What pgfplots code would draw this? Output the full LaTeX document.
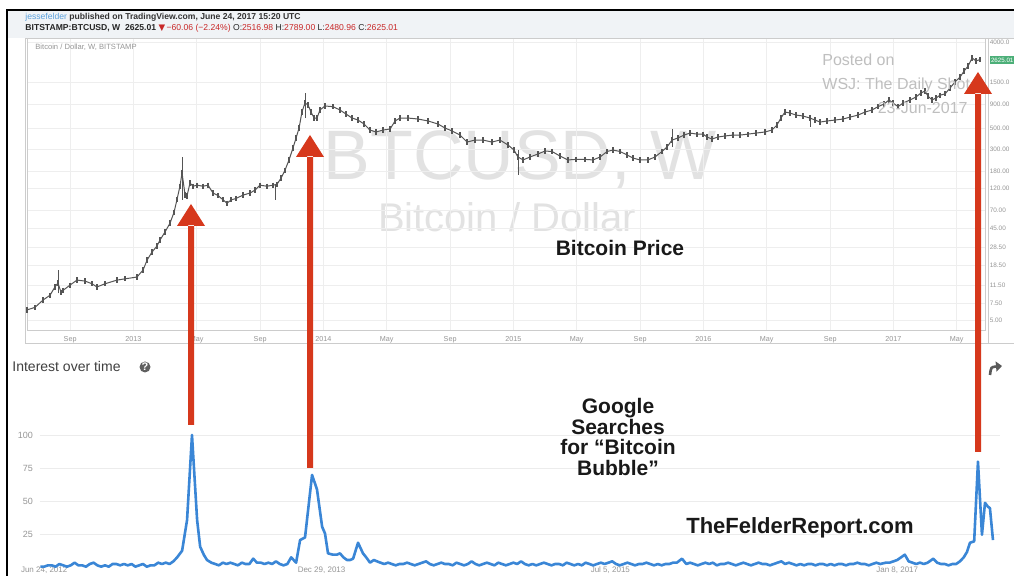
\documentclass[border=0pt]{standalone}
\usepackage{pgfplots}
\pgfplotsset{compat=1.18}
\usepackage{fontspec}
\setmainfont{Liberation Sans}
\newfontfamily\dejavu{DejaVu Sans}
\usetikzlibrary{arrows.meta}
\definecolor{arrowred}{RGB}{214,56,28}
\definecolor{gblue}{RGB}{58,134,214}
\definecolor{tvgreen}{RGB}{76,175,120}
\definecolor{hdrbg}{RGB}{240,243,246}
\definecolor{wm}{RGB}{226,226,226}
\definecolor{lbl}{RGB}{150,150,150}
\definecolor{tvred}{RGB}{200,40,40}
\definecolor{tvblue}{RGB}{90,160,220}
\definecolor{candle}{RGB}{85,85,85}

\pgfplotstableread{
yr price
2012.440 6.4
2012.482 6.8
2012.524 8.1
2012.561 9.1
2012.587 11.1
2012.603 12.2
2012.619 9.8
2012.629 10.2
2012.666 11.6
2012.703 13.1
2012.745 12.8
2012.782 12.0
2012.808 11.1
2012.851 12.0
2012.914 13.1
2012.956 13.5
2013.019 14.1
2013.051 16.7
2013.072 21.2
2013.098 25.7
2013.124 29.7
2013.140 34.3
2013.166 41.5
2013.193 51.6
2013.214 67
2013.229 90
2013.245 125
2013.256 172
2013.272 101
2013.282 99
2013.298 135
2013.314 125
2013.335 128
2013.366 125
2013.393 128
2013.419 106
2013.445 100
2013.472 90
2013.493 83
2013.514 90
2013.540 93
2013.577 101
2013.614 106
2013.640 114
2013.666 128
2013.703 125
2013.735 128
2013.756 131
2013.777 152
2013.798 184
2013.819 235
2013.840 313
2013.856 398
2013.872 506
2013.887 743
2013.903 923
2013.919 880
2013.935 743
2013.951 643
2013.966 643
2013.982 780
2014.008 859
2014.051 845
2014.087 780
2014.119 708
2014.151 643
2014.182 613
2014.214 557
2014.245 482
2014.277 460
2014.314 482
2014.351 494
2014.377 599
2014.403 643
2014.445 643
2014.498 628
2014.551 599
2014.603 557
2014.640 506
2014.677 471
2014.719 427
2014.756 361
2014.798 379
2014.840 379
2014.887 361
2014.929 379
2014.972 336
2015.003 298
2015.024 252
2015.051 235
2015.087 252
2015.129 271
2015.166 291
2015.203 288
2015.245 258
2015.287 235
2015.329 238
2015.377 238
2015.419 235
2015.456 252
2015.493 288
2015.524 298
2015.561 288
2015.598 265
2015.629 246
2015.666 235
2015.708 235
2015.745 252
2015.782 288
2015.808 320
2015.835 379
2015.866 398
2015.898 427
2015.929 448
2015.966 437
2015.998 437
2016.019 408
2016.045 388
2016.077 408
2016.114 418
2016.156 427
2016.193 427
2016.235 437
2016.277 448
2016.324 460
2016.361 482
2016.387 544
2016.408 643
2016.429 743
2016.456 725
2016.487 691
2016.524 675
2016.561 643
2016.587 613
2016.614 584
2016.651 599
2016.693 613
2016.735 628
2016.772 658
2016.814 691
2016.851 743
2016.887 780
2016.919 845
2016.951 901
2016.977 992
2016.998 923
2017.024 845
2017.051 923
2017.087 992
2017.119 1066
2017.145 1175
2017.166 1232
2017.182 1090
2017.203 992
2017.224 1040
2017.245 1112
2017.272 1150
2017.298 1324
2017.324 1528
2017.351 1725
2017.372 1991
2017.393 2245
2017.414 2722
2017.435 2533
2017.456 2625
}\pricetable

\pgfplotstableread{
yr val
2012.51 1
2012.53 1
2012.55 2
2012.57 2
2012.59 1
2012.61 3
2012.63 2
2012.65 1
2012.67 2
2012.69 4
2012.71 2
2012.73 2
2012.75 1
2012.77 3
2012.79 4
2012.81 2
2012.83 1
2012.85 2
2012.87 1
2012.89 3
2012.91 3
2012.93 2
2012.95 3
2012.97 2
2012.99 3
2013.01 1
2013.03 2
2013.05 3
2013.07 1
2013.09 2
2013.11 2
2013.13 4
2013.15 3
2013.17 4
2013.19 3
2013.21 5
2013.23 8
2013.256 13
2013.282 36
2013.308 100
2013.335 36
2013.351 16
2013.37 10
2013.387 6
2013.41 4
2013.43 3
2013.45 2
2013.47 4
2013.49 3
2013.51 4
2013.53 3
2013.55 2
2013.57 4
2013.59 3
2013.61 3
2013.63 7
2013.65 4
2013.67 4
2013.69 3
2013.71 4
2013.73 3
2013.75 5
2013.77 3
2013.79 2
2013.81 3
2013.83 8
2013.856 4
2013.877 21
2013.903 23
2013.94 70
2013.966 59
2013.993 31
2014.008 26
2014.024 11
2014.05 10
2014.07 10
2014.087 11
2014.105 8
2014.124 6
2014.14 6
2014.156 7
2014.182 19
2014.208 11
2014.225 8
2014.245 4
2014.265 6
2014.282 5
2014.30 4
2014.32 3
2014.34 4
2014.36 3
2014.38 2
2014.40 3
2014.42 3
2014.44 4
2014.46 3
2014.48 2
2014.50 3
2014.52 4
2014.54 5
2014.56 3
2014.58 2
2014.60 3
2014.62 4
2014.64 3
2014.66 3
2014.68 2
2014.70 4
2014.72 3
2014.74 2
2014.76 3
2014.78 5
2014.80 3
2014.82 2
2014.84 3
2014.86 4
2014.88 3
2014.90 2
2014.92 4
2014.94 3
2014.96 2
2014.98 3
2015.00 4
2015.02 3
2015.04 5
2015.06 3
2015.08 2
2015.10 3
2015.12 2
2015.14 3
2015.16 4
2015.18 3
2015.20 2
2015.22 3
2015.24 3
2015.26 2
2015.28 4
2015.30 3
2015.32 2
2015.34 3
2015.36 2
2015.38 4
2015.40 3
2015.42 2
2015.44 3
2015.46 4
2015.48 3
2015.50 4
2015.52 5
2015.54 3
2015.56 2
2015.58 3
2015.60 4
2015.62 3
2015.64 2
2015.66 3
2015.68 3
2015.70 4
2015.72 3
2015.74 2
2015.76 3
2015.78 2
2015.80 3
2015.82 3
2015.84 4
2015.86 4
2015.887 7
2015.91 3
2015.93 4
2015.95 3
2015.97 2
2015.99 3
2016.01 4
2016.03 3
2016.05 4
2016.07 2
2016.09 3
2016.11 3
2016.13 4
2016.15 3
2016.17 2
2016.19 3
2016.21 4
2016.23 3
2016.25 2
2016.27 3
2016.29 4
2016.31 3
2016.33 3
2016.35 2
2016.37 3
2016.39 4
2016.41 5
2016.43 3
2016.45 4
2016.47 3
2016.49 2
2016.51 3
2016.53 2
2016.55 3
2016.57 3
2016.59 2
2016.61 3
2016.63 3
2016.65 2
2016.67 3
2016.69 2
2016.71 3
2016.73 3
2016.75 2
2016.77 3
2016.79 3
2016.81 4
2016.83 3
2016.85 3
2016.87 2
2016.89 3
2016.91 4
2016.93 3
2016.96 4
2016.98 4
2017.00 5
2017.02 6
2017.04 8
2017.06 10
2017.08 5
2017.10 4
2017.12 3
2017.14 4
2017.16 3
2017.18 4
2017.21 7
2017.23 4
2017.25 3
2017.27 3
2017.29 2
2017.31 3
2017.33 3
2017.35 5
2017.37 8
2017.387 12
2017.403 19
2017.425 20
2017.445 80
2017.466 25
2017.482 49
2017.498 46
2017.508 45
2017.524 21
}\trendtable

\begin{document}
\begin{tikzpicture}
\path[use as bounding box] (0pt,0pt) rectangle (507pt,-288pt);
\begin{scope}[x=0.5pt,y=-0.5pt]
\fill[white] (0,0) rectangle (1014,576);
\fill[hdrbg] (8,10) rectangle (1014,38);
\draw[black, line width=0.8pt] (7,576) -- (7,10) -- (1014,10);
\draw[gray!40, line width=0.4pt] (25,38) rectangle (1016,343);
\draw[gray!40, line width=0.4pt] (988,38) -- (988,343);
% header texts
\node[anchor=west, inner sep=0pt, text=black!80] at (25,17)
  {\fontsize{4.3}{5}\selectfont\textcolor{tvblue}{jessefelder} \textbf{published on TradingView.com, June 24, 2017 15:20 UTC}};
\node[anchor=west, inner sep=0pt, text=black!85] at (25,28)
  {\fontsize{4.3}{5}\selectfont\textbf{BITSTAMP:BTCUSD, W\ \ 2625.01} \textcolor{tvred}{{\dejavu ▼}\,−60.06 (−2.24\%)} O:\textcolor{tvred}{2516.98} H:\textcolor{tvred}{2789.00} L:\textcolor{tvred}{2480.96} C:\textcolor{tvred}{2625.01}};
% watermarks
\node[text=wm, inner sep=0pt] at (520,160) {\fontsize{35}{35}\selectfont BTCUSD, W};
\node[text=wm, inner sep=0pt] at (507,217) {\fontsize{20}{20}\selectfont Bitcoin / Dollar};
\end{scope}

% ---------- upper price chart ----------
\begin{axis}[
  at={(13.5pt,-165pt)}, anchor=south west,
  scale only axis, width=479pt, height=146pt,
  xmin=2012.44, xmax=2017.482,
  ymode=log, ymin=3.95, ymax=4400,
  axis line style={gray!40, line width=0.3pt},
  tick style={draw=none},
  grid=major, major grid style={gray!13, line width=0.3pt},
  xtick={2012.667,2013,2013.333,2013.667,2014,2014.333,2014.667,2015,2015.333,2015.667,2016,2016.333,2016.667,2017,2017.333},
  xticklabels={Sep,2013,May,Sep,2014,May,Sep,2015,May,Sep,2016,May,Sep,2017,May},
  ytick={5,7.5,11.5,18.5,28.5,45,70,120,180,300,500,900,1500,4000},
  yticklabels={5.00,7.50,11.50,18.50,28.50,45.00,70.00,120.00,180.00,300.00,500.00,900.00,1500.0,4000.0},
  yticklabel pos=right,
  ticklabel style={font=\fontsize{3.6}{4}\selectfont, text=lbl},
  yticklabel style={font=\fontsize{3.2}{4}\selectfont, anchor=west, inner sep=0pt, xshift=2.2pt},
  /pgf/number format/assume math mode=true,
  xticklabel style={yshift=0.5pt},
]
\addplot[candle, line width=0.5pt, mark=|, mark size=1.3pt, mark options={line width=0.9pt}] table[x=yr, y=price] {\pricetable};
% wicks
\addplot[candle, line width=0.4pt] coordinates {(2012.603,9.5) (2012.603,16.6)};
\addplot[candle, line width=0.4pt] coordinates {(2013.256,90) (2013.256,252)};
\addplot[candle, line width=0.4pt] coordinates {(2013.745,90) (2013.745,128)};
\addplot[candle, line width=0.4pt] coordinates {(2013.903,640) (2013.903,1175)};
\addplot[candle, line width=0.4pt] coordinates {(2015.024,164) (2015.024,300)};
\addplot[candle, line width=0.4pt] coordinates {(2015.835,320) (2015.835,500)};
\addplot[candle, line width=0.4pt] coordinates {(2016.561,520) (2016.561,660)};
\end{axis}

% ---------- lower trends chart ----------
\begin{axis}[
  at={(20pt,-284pt)}, anchor=south west,
  scale only axis, width=480pt, height=66.5pt,
  xmin=2012.508, xmax=2017.561, ymin=0, ymax=100,
  axis line style={draw=none}, tick style={draw=none},
  ytick={25,50,75,100}, ymajorgrids, major grid style={gray!15, line width=0.4pt},
  xtick={2012.53,2013.99,2015.51,2017.02},
  xticklabels={{Jun 24, 2012},{Dec 29, 2013},{Jul 5, 2015},{Jan 8, 2017}},
  ticklabel style={font=\fontsize{4.5}{5}\selectfont, text=lbl},
  xticklabel style={font=\fontsize{4}{4.5}\selectfont, yshift=1.2pt, inner sep=0.5pt},
  /pgf/number format/assume math mode=true,
  clip=false,
]
\addplot[gblue, line width=1.3pt, line join=round] table[x=yr, y=val] {\trendtable};
\end{axis}

\begin{scope}[x=0.5pt,y=-0.5pt]
% price axis current value box
\node[fill=tvgreen, text=white, inner xsep=0.3pt, inner ysep=0.8pt, anchor=west] at (990,60) {\fontsize{3.1}{3.5}\selectfont 2625.01};
\node[anchor=west, inner sep=0pt, text=lbl] at (35,47) {\fontsize{3.8}{4}\selectfont Bitcoin / Dollar, W, BITSTAMP};
% posted on
\node[anchor=west, inner sep=0pt, text=gray!50] at (822,60) {\fontsize{8}{8}\selectfont Posted on};
\node[anchor=west, inner sep=0pt, text=gray!50] at (822,85) {\fontsize{8}{8}\selectfont WSJ: The Daily Shot};
\node[anchor=east, inner sep=0pt, text=gray!50] at (968,108) {\fontsize{8}{8}\selectfont 23-Jun-2017};
% annotation texts
\node[inner sep=0pt, text=black!90] at (620,248) {\fontsize{10.5}{11}\selectfont\bfseries Bitcoin Price};
\node[inner sep=0pt, text=black!90, align=center, font=\fontsize{10.5}{10.3}\selectfont\bfseries] at (618,437) {Google\\Searches\\for “Bitcoin\\Bubble”};
\node[inner sep=0pt, text=black!90] at (800,528) {\fontsize{11}{11}\selectfont\bfseries TheFelderReport.com};
% interest over time
\node[anchor=west, inner sep=0pt, text=black!75] at (12,367) {\fontsize{7}{7}\selectfont Interest over time};
\fill[gray!75!black] (145,367) circle (5.5);
\node[text=white, inner sep=0pt] at (145,367) {\fontsize{5.5}{5.5}\selectfont\bfseries ?};
\draw[gray!70!black, line width=1.3pt, -{Triangle[length=3pt,width=5pt]}] (990,375) .. controls (991,367) .. (1002,366);
% red arrows
\fill[arrowred] (188,425) rectangle (194,225) (177,226) -- (205,226) -- (191,204) -- cycle;
\fill[arrowred] (307,468) rectangle (313,156) (296,157) -- (324,157) -- (310,135) -- cycle;
\fill[arrowred] (975,452) rectangle (981,93) (964,94) -- (992,94) -- (978,72) -- cycle;
\end{scope}
\end{tikzpicture}
\end{document}
